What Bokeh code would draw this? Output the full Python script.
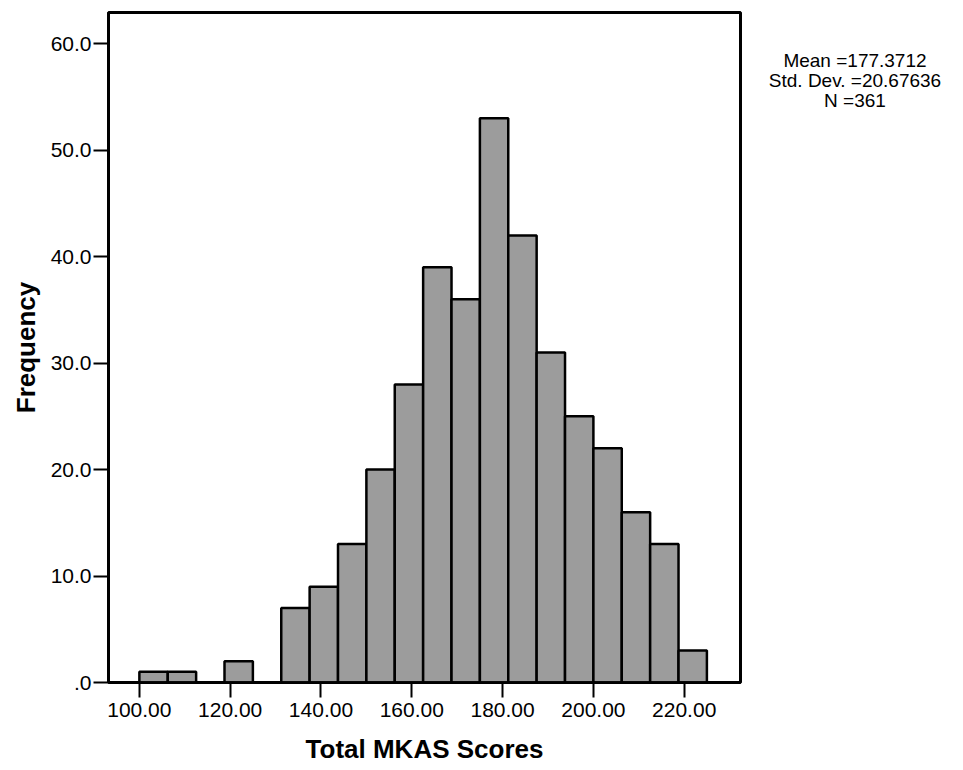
from bokeh.plotting import figure
from bokeh.models import FixedTicker, Range1d, Div
from bokeh.layouts import row
from bokeh.embed import file_html
from bokeh.resources import INLINE

# ---- data ----
bin_left = [100.0, 106.25, 112.5, 118.75, 125.0, 131.25, 137.5, 143.75, 150.0, 156.25,
            162.5, 168.75, 175.0, 181.25, 187.5, 193.75, 200.0, 206.25, 212.5, 218.75]
bin_right = [106.25, 112.5, 118.75, 125.0, 131.25, 137.5, 143.75, 150.0, 156.25, 162.5,
             168.75, 175.0, 181.25, 187.5, 193.75, 200.0, 206.25, 212.5, 218.75, 225.0]
counts = [1, 1, 0, 2, 0, 7, 9, 13, 20, 28, 39, 36, 53, 42, 31, 25, 22, 16, 13, 3]

x_ticks = [100, 120, 140, 160, 180, 200, 220]
x_tick_labels = ["100.00", "120.00", "140.00", "160.00", "180.00", "200.00", "220.00"]
y_ticks = [0, 10, 20, 30, 40, 50, 60]
y_tick_labels = [".0", "10.0", "20.0", "30.0", "40.0", "50.0", "60.0"]

stats_lines = ["Mean =177.3712", "Std. Dev. =20.67636", "N =361"]
x_title = "Total MKAS Scores"
y_title = "Frequency"

FONT = "Liberation Sans"

p = figure(frame_width=632, frame_height=670,
           x_range=Range1d(93.2, 232.4), y_range=Range1d(0, 62.94),
           output_backend="svg", toolbar_location=None,
           min_border_left=108, min_border_right=14,
           min_border_top=12, min_border_bottom=80,
           background_fill_color="white", border_fill_color="white")

# bars (skip empty bins)
L = [l for l, c in zip(bin_left, counts) if c > 0]
R = [r for r, c in zip(bin_right, counts) if c > 0]
C = [c for c in counts if c > 0]
p.quad(left=L, right=R, bottom=0, top=C,
       fill_color="#9c9c9c", line_color="black", line_width=2.5)

p.grid.visible = False
p.outline_line_color = "black"
p.outline_line_width = 3

# x axis
xa = p.xaxis[0]
xa.ticker = FixedTicker(ticks=x_ticks)
xa.major_label_overrides = {t: s for t, s in zip(x_ticks, x_tick_labels)}
xa.axis_line_color = "black"
xa.axis_line_width = 2.5
xa.major_tick_in = 0
xa.major_tick_out = 15
xa.major_tick_line_width = 2
xa.minor_tick_line_color = None
xa.major_label_standoff = 5
xa.major_label_text_font = FONT
xa.major_label_text_font_size = "21px"
xa.major_label_text_color = "black"
xa.axis_label = x_title
xa.axis_label_text_font = FONT
xa.axis_label_text_font_style = "bold"
xa.axis_label_text_font_size = "26px"
xa.axis_label_text_color = "black"
xa.axis_label_standoff = 14

# y axis
ya = p.yaxis[0]
ya.ticker = FixedTicker(ticks=y_ticks)
ya.major_label_overrides = {t: s for t, s in zip(y_ticks, y_tick_labels)}
ya.axis_line_color = "black"
ya.axis_line_width = 2.5
ya.major_tick_in = 0
ya.major_tick_out = 15
ya.major_tick_line_width = 2
ya.minor_tick_line_color = None
ya.major_label_standoff = 2
ya.major_label_text_font = FONT
ya.major_label_text_font_size = "21px"
ya.major_label_text_color = "black"
ya.axis_label = y_title
ya.axis_label_text_font = FONT
ya.axis_label_text_font_style = "bold"
ya.axis_label_text_font_size = "26px"
ya.axis_label_text_color = "black"
ya.axis_label_standoff = 7

stats = Div(text="<br>".join(stats_lines), width=202, height=120,
            margin=(51, 0, 0, 0),
            styles={"font-family": FONT, "font-size": "19px", "line-height": "20px",
                    "text-align": "center", "color": "black", "white-space": "nowrap"})

layout = row(p, stats)

open("out.html", "w").write(file_html(layout, INLINE))
